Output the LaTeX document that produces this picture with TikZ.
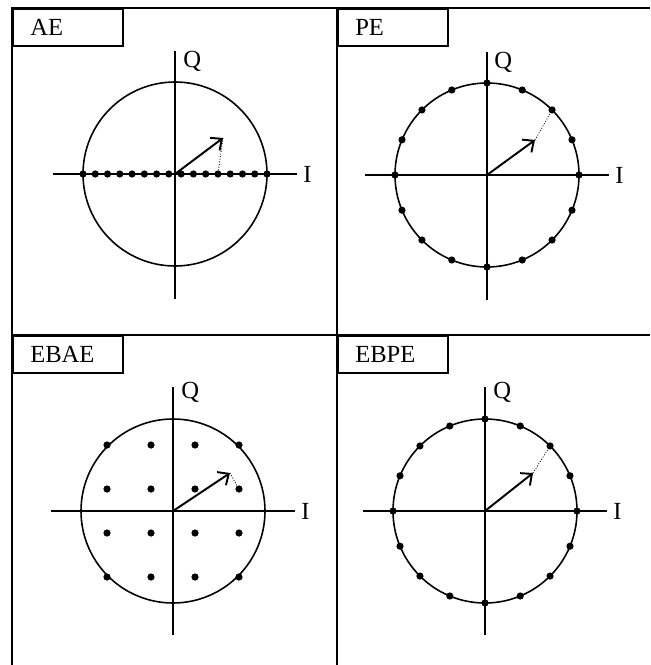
\documentclass[tikz,border=0pt]{standalone}
\usepackage{fontspec}
\setmainfont{Liberation Serif}
\usetikzlibrary{arrows.meta,positioning}

\begin{document}
\begin{tikzpicture}[x=0.02cm,y=-0.02cm,
  frame/.style={line width=1.1pt},
  tag/.style={draw,line width=0.9pt,anchor=north west,minimum height=0.75cm,
    text width=1.5cm,inner xsep=0.35cm,align=left,font=\fontsize{14}{16}\selectfont},
  axlab/.style={inner sep=0pt,font=\fontsize{14}{16}\selectfont},
  ring/.style={line width=0.9pt},
  vec/.style={line width=1.1pt,-{Straight Barb[length=5pt,width=9pt]}},
  proj/.style={densely dotted,line width=0.5pt},
  dot/.style={fill=black}]
\useasboundingbox (0,0) rectangle (650,665);

% frame
\draw[frame] (12,665) -- (12,8) -- (650,8);
\draw[frame] (337,8) -- (337,665);
\draw[frame] (12,335) -- (650,335);

\node[tag] (ae-tag) at (12,8) {AE};
\node[tag] (pe-tag) at (337,8) {PE};
\node[tag] (ebae-tag) at (12,335) {EBAE};
\node[tag] (ebpe-tag) at (337,335) {EBPE};

% AE
\begin{scope}[shift={(175,174)}]
\draw[ring] (0,0) circle[radius=92];
\draw[ring] (-122,0) -- (122,0) coordinate (ae-x);
\draw[ring] (0,125) -- (0,-123) coordinate (ae-y);
\node[axlab,right=0.12cm of ae-x] (ae-i) {I};
\node[axlab,below right=0cm and 0.16cm of ae-y] (ae-q) {Q};
\foreach \k in {0,...,15}
  \fill[dot] ({-92+\k*184/15},0) circle[radius=3.6];
\coordinate (ae-o) at (0,0);
\coordinate (ae-t) at (48,-36);
\coordinate (ae-p) at ({-92+11*184/15},0);
\draw[vec] (ae-o) -- (ae-t);
\draw[proj] (ae-t) -- (ae-p);
\end{scope}

% PE
\begin{scope}[shift={(487,175)}]
\draw[ring] (0,0) circle[radius=92];
\draw[ring] (-122,0) -- (122,0) coordinate (pe-x);
\draw[ring] (0,125) -- (0,-123) coordinate (pe-y);
\node[axlab,right=0.12cm of pe-x] (pe-i) {I};
\node[axlab,below right=0cm and 0.14cm of pe-y] (pe-q) {Q};
\foreach \a in {0,22.5,...,337.5}
  \fill[dot] (\a:92) circle[radius=3.6];
\coordinate (pe-o) at (0,0);
\coordinate (pe-t) at (48,-35);
\coordinate (pe-p) at (-45:92);
\draw[vec] (pe-o) -- (pe-t);
\draw[proj] (pe-t) -- (pe-p);
\end{scope}

% EBAE
\begin{scope}[shift={(173,511)}]
\draw[ring] (0,0) circle[radius=92];
\draw[ring] (-122,0) -- (122,0) coordinate (ebae-x);
\draw[ring] (0,124) -- (0,-124) coordinate (ebae-y);
\node[axlab,right=0.12cm of ebae-x] (ebae-i) {I};
\node[axlab,below right=-0.1cm and 0.16cm of ebae-y] (ebae-q) {Q};
\foreach \i in {-66,-22,22,66}
  \foreach \j in {-66,-22,22,66}
    \fill[dot] (\i,\j) circle[radius=3.6];
\coordinate (ebae-o) at (0,0);
\coordinate (ebae-t) at (57,-38);
\coordinate (ebae-p) at (66,-22);
\draw[vec] (ebae-o) -- (ebae-t);
\draw[proj] (ebae-t) -- (ebae-p);
\end{scope}

% EBPE
\begin{scope}[shift={(485,511)}]
\draw[ring] (0,0) circle[radius=92];
\draw[ring] (-122,0) -- (122,0) coordinate (ebpe-x);
\draw[ring] (0,124) -- (0,-124) coordinate (ebpe-y);
\node[axlab,right=0.12cm of ebpe-x] (ebpe-i) {I};
\node[axlab,below right=-0.1cm and 0.16cm of ebpe-y] (ebpe-q) {Q};
\foreach \a in {0,22.5,...,337.5}
  \fill[dot] (\a:92) circle[radius=3.6];
\coordinate (ebpe-o) at (0,0);
\coordinate (ebpe-t) at (48,-38);
\coordinate (ebpe-p) at (-45:92);
\draw[vec] (ebpe-o) -- (ebpe-t);
\draw[proj] (ebpe-t) -- (ebpe-p);
\end{scope}
\end{tikzpicture}
\end{document}
